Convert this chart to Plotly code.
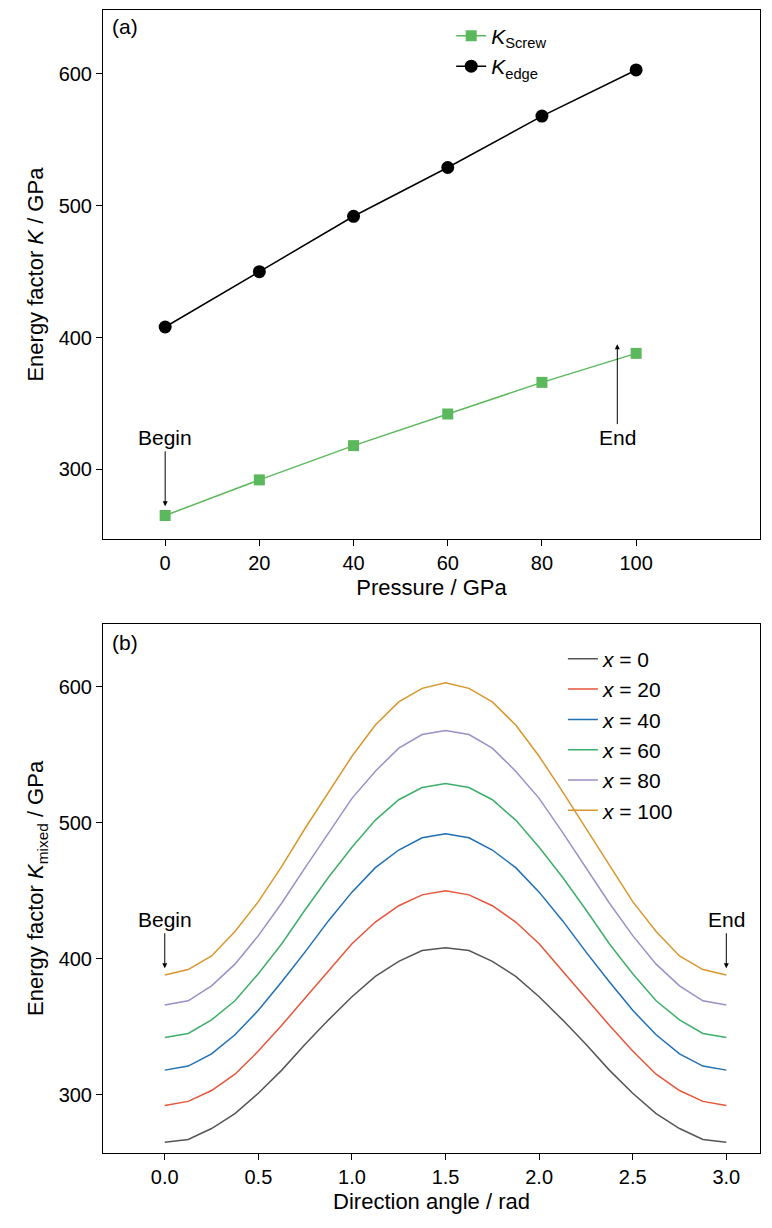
import plotly.graph_objects as go
from plotly.subplots import make_subplots

pressure = [0, 20, 40, 60, 80, 100]
k_screw = [265, 292, 318, 342, 366, 388]
k_edge = [408, 450, 492, 529, 568, 603]

angle = [i * 0.125 for i in range(25)]
half_x0 = [265, 267, 275, 286, 301, 318, 337, 355, 372, 387, 398, 406, 408]
half_x20 = [292, 295, 303, 315, 332, 351, 371, 391, 411, 427, 439, 447, 450]
half_x40 = [318, 321, 330, 344, 362, 383, 405, 428, 449, 467, 480, 489, 492]
half_x60 = [342, 345, 355, 369, 389, 411, 436, 460, 482, 502, 517, 526, 529]
half_x80 = [366, 369, 380, 396, 417, 441, 467, 493, 518, 538, 555, 565, 568]
half_x100 = [388, 392, 402, 420, 442, 468, 496, 523, 549, 572, 589, 599, 603]
mixed_names = ["0", "20", "40", "60", "80", "100"]
mixed_colors = ["#555555", "#e8543a", "#1f6fb5", "#3dae6a", "#9d8ec9", "#d9962b"]

FONT = "Liberation Sans, Arial, sans-serif"

fig = make_subplots(rows=2, cols=1, vertical_spacing=0.074)

fig.add_trace(go.Scatter(x=pressure, y=k_screw, mode="lines+markers", name="<i>K</i><sub>Screw</sub>",
                         line=dict(color="#5cb85c", width=1.5),
                         marker=dict(symbol="square", size=11, color="#5cb85c"), legend="legend"), 1, 1)
fig.add_trace(go.Scatter(x=pressure, y=k_edge, mode="lines+markers", name="<i>K</i><sub>edge</sub>",
                         line=dict(color="black", width=1.5),
                         marker=dict(symbol="circle", size=13, color="black"), legend="legend"), 1, 1)

for half, nm, c in zip([half_x0, half_x20, half_x40, half_x60, half_x80, half_x100], mixed_names, mixed_colors):
    ys = half + half[-2::-1]  # curve is symmetric about 1.5 rad
    fig.add_trace(go.Scatter(x=angle, y=ys, mode="lines", line=dict(color=c, width=1.5),
                             name="<i>x</i> = " + nm, legend="legend2"), 2, 1)

ax = dict(showline=True, linecolor="black", linewidth=1, mirror=True, ticks="outside",
          ticklen=6, tickcolor="black", showgrid=False, zeroline=False,
          tickfont=dict(size=20, family=FONT, color="black"))
fig.update_xaxes(**ax)
fig.update_yaxes(**ax)
fig.update_xaxes(range=[-13.2, 126.3], tickvals=pressure, row=1, col=1,
                 title=dict(text="Pressure / GPa", font=dict(size=22, family=FONT), standoff=6))
fig.update_yaxes(range=[247, 648.5], tickvals=[300, 400, 500, 600], row=1, col=1,
                 title=dict(text="Energy factor <i>K</i> / GPa", font=dict(size=22, family=FONT), standoff=8))
fig.update_xaxes(range=[-0.33, 3.18], tickvals=[0, 0.5, 1.0, 1.5, 2.0, 2.5, 3.0],
                 ticktext=["0.0", "0.5", "1.0", "1.5", "2.0", "2.5", "3.0"], row=2, col=1,
                 title=dict(text="Direction angle / rad", font=dict(size=22, family=FONT), standoff=6))
fig.update_yaxes(range=[257, 646.5], tickvals=[300, 400, 500, 600], row=2, col=1,
                 title=dict(text="Energy factor <i>K</i><sub>mixed</sub> / GPa", font=dict(size=22, family=FONT), standoff=8))

arr = dict(showarrow=True, arrowhead=2, arrowsize=1, arrowwidth=1, arrowcolor="black",
           font=dict(size=21, family=FONT, color="black"))
fig.add_annotation(x=0, y=272, ax=0, ay=-55, text="Begin", xref="x", yref="y", yanchor="bottom", **arr)
fig.add_annotation(x=96, y=395, ax=0, ay=80, text="End", xref="x", yref="y", yanchor="top", **arr)
fig.add_annotation(x=0, y=393, ax=0, ay=-35, text="Begin", xref="x2", yref="y2", yanchor="bottom", **arr)
fig.add_annotation(x=3.0, y=393, ax=0, ay=-35, text="End", xref="x2", yref="y2", yanchor="bottom", **arr)
lab = dict(showarrow=False, font=dict(size=21, family=FONT, color="black"), xanchor="left", yanchor="top")
fig.add_annotation(x=0.01, y=0.995, xref="x domain", yref="y domain", text="(a)", **lab)
fig.add_annotation(x=0.01, y=0.99, xref="x2 domain", yref="y2 domain", text="(b)", **lab)

fig.update_layout(
    width=772, height=1228, plot_bgcolor="white", paper_bgcolor="white",
    margin=dict(l=95, r=20, t=2, b=83),
    font=dict(family=FONT, color="black"),
    legend=dict(x=0.53, y=0.995, xanchor="left", yanchor="top", bgcolor="rgba(0,0,0,0)",
                font=dict(size=21, family=FONT)),
    legend2=dict(x=0.7, y=0.45, xanchor="left", yanchor="top", bgcolor="rgba(0,0,0,0)",
                 font=dict(size=21, family=FONT)),
)
fig.write_html("out.html")
